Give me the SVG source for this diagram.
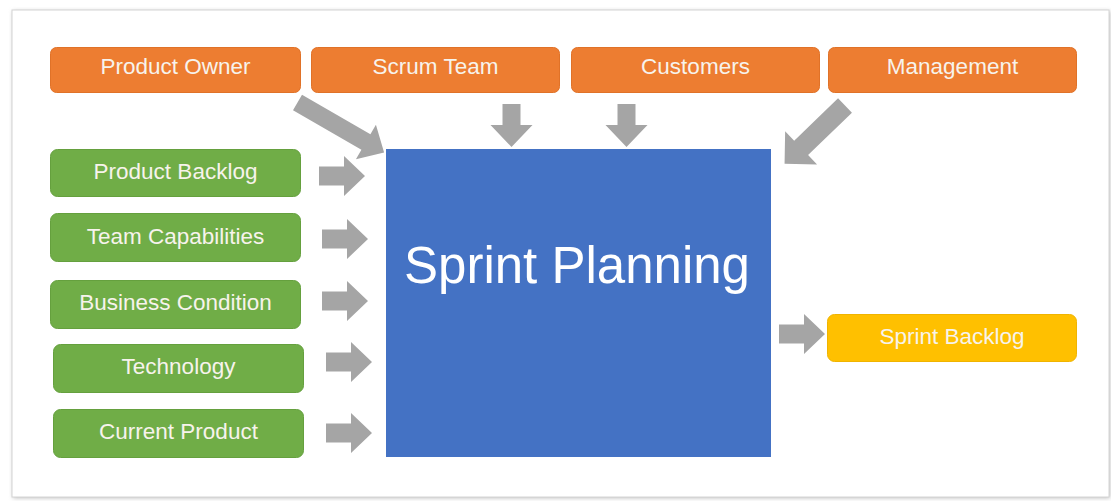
<svg xmlns="http://www.w3.org/2000/svg" width="1111" height="501" viewBox="0 0 1111 501">
<defs>
<style>
.box{stroke-width:1}
.or{fill:#ED7D31;stroke:#E07228}
.gr{fill:#70AD47;stroke:#65A03E}
.yl{fill:#FFC000;stroke:#F0B400}
.lbl{font-family:"Liberation Sans",Arial,sans-serif;font-size:22.5px;fill:#F7F3EC;text-anchor:middle}
.arr{fill:#A5A5A5}
</style>
<path id="ra" d="M0,-9.5 H25 V-20 L46,0 L25,20 V9.5 H0 Z"/>
<filter id="sh" x="-5%" y="-5%" width="110%" height="110%"><feGaussianBlur stdDeviation="2"/></filter>
</defs>
<rect width="1111" height="501" fill="#ffffff"/>
<rect x="13" y="11" width="1097" height="487" fill="#bbbbbb" filter="url(#sh)"/>
<rect x="12" y="10" width="1097" height="487" fill="#ffffff" stroke="#d4d4d4" stroke-width="1"/>

<g id="product-owner"><rect class="box or" x="50.5" y="47.5" width="250" height="45" rx="6"/><text class="lbl" x="175.5" y="73.5">Product Owner</text></g>
<g id="scrum-team"><rect class="box or" x="311.5" y="47.5" width="248" height="45" rx="6"/><text class="lbl" x="435.5" y="73.5">Scrum Team</text></g>
<g id="customers"><rect class="box or" x="571.5" y="47.5" width="248" height="45" rx="6"/><text class="lbl" x="695.5" y="73.5">Customers</text></g>
<g id="management"><rect class="box or" x="828.5" y="47.5" width="248" height="45" rx="6"/><text class="lbl" x="952.5" y="73.5">Management</text></g>

<g id="product-backlog"><rect class="box gr" x="50.5" y="149.5" width="250" height="47" rx="7"/><text class="lbl" x="175.5" y="178.5">Product Backlog</text></g>
<g id="team-capabilities"><rect class="box gr" x="50.5" y="213.5" width="250" height="48" rx="7"/><text class="lbl" x="175.5" y="243.5">Team Capabilities</text></g>
<g id="business-condition"><rect class="box gr" x="50.5" y="280.5" width="250" height="48" rx="7"/><text class="lbl" x="175.5" y="309.5">Business Condition</text></g>
<g id="technology"><rect class="box gr" x="53.5" y="344.5" width="250" height="48" rx="7"/><text class="lbl" x="178.5" y="373.5">Technology</text></g>
<g id="current-product"><rect class="box gr" x="53.5" y="409.5" width="250" height="48" rx="7"/><text class="lbl" x="178.5" y="438.5">Current Product</text></g>

<g id="sprint-planning"><rect x="386" y="149" width="385" height="308" fill="#4472C4"/><text x="577" y="283" font-family="'Liberation Sans',Arial,sans-serif" font-size="51" fill="#FFFFFF" text-anchor="middle">Sprint Planning</text></g>

<g id="sprint-backlog"><rect class="box yl" x="827.5" y="314.5" width="249" height="47" rx="7"/><text class="lbl" x="952" y="343.5">Sprint Backlog</text></g>

<g id="connectors" class="arr">
<path d="M-9,0 H9 V21 H21 L0,43 L-21,21 H-9 Z" transform="translate(511.5,104)"/>
<path d="M-9,0 H9 V21 H21 L0,43 L-21,21 H-9 Z" transform="translate(626.5,104)"/>
<path d="M0,-9 H79 V-20 L100,0 L79,20 V9 H0 Z" transform="translate(297.5,102.5) rotate(30)"/>
<path d="M0,-10 H61 V-23 L84,0 L61,23 V10 H0 Z" transform="translate(845,105.5) rotate(136)"/>
<use href="#ra" x="319" y="176"/>
<use href="#ra" x="322" y="239"/>
<use href="#ra" x="322" y="301"/>
<use href="#ra" x="326" y="362"/>
<use href="#ra" x="326" y="433"/>
<use href="#ra" x="779" y="334"/>
</g>
</svg>
